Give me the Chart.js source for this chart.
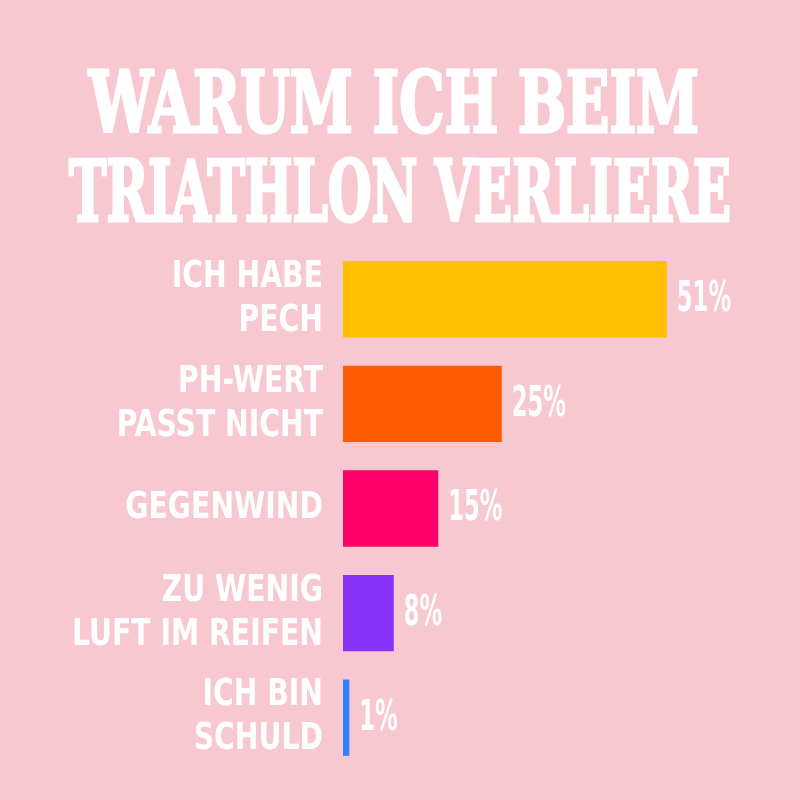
<!DOCTYPE html>
<html>
<head>
<meta charset="utf-8">
<script src="https://cdn.jsdelivr.net/npm/chart.js@4"></script>
<style>
  html, body { margin: 0; padding: 0; background: #F7C8D0; }
  #wrap { width: 800px; height: 800px; }
</style>
</head>
<body>
<div id="wrap"><canvas id="chart"></canvas></div>
<script>
const TITLE_LINES = ['WARUM ICH BEIM', 'TRIATHLON VERLIERE'];

const CATEGORIES = [
  ['ICH HABE', 'PECH'],
  ['PH-WERT', 'PASST NICHT'],
  'GEGENWIND',
  ['ZU WENIG', 'LUFT IM REIFEN'],
  ['ICH BIN', 'SCHULD']
];

const PERCENTS = [51, 25, 15, 8, 1];

const BAR_COLORS = ['#FFC000', '#FF5A00', '#FF0068', '#8A33F8', '#2F80FF'];

const BG = '#F7C8D0';

// background + title
const titlePlugin = {
  id: 'titlePlugin',
  beforeDraw(chart) {
    const { ctx, width, height } = chart;
    ctx.save();
    ctx.fillStyle = BG;
    ctx.fillRect(0, 0, width, height);
    ctx.restore();
  },
  afterDraw(chart) {
    const { ctx } = chart;
    ctx.save();
    ctx.font = 'bold 84px "DejaVu Serif Condensed", "DejaVu Serif"';
    ctx.fillStyle = '#fff';
    ctx.strokeStyle = '#fff';
    ctx.lineWidth = 3;
    ctx.lineJoin = 'miter';
    ctx.textAlign = 'center';
    ctx.textBaseline = 'alphabetic';
    ctx.fillText(TITLE_LINES[0], 394, 132, 610);
    ctx.strokeText(TITLE_LINES[0], 394, 132, 610);
    ctx.fillText(TITLE_LINES[1], 400, 221, 662);
    ctx.strokeText(TITLE_LINES[1], 400, 221, 662);
    ctx.restore();
  }
};

// category labels, squeezed like the condensed poster font
const categoryLabels = {
  id: 'categoryLabels',
  afterDraw(chart) {
    const { ctx } = chart;
    const yScale = chart.scales.y;
    ctx.save();
    ctx.font = 'bold 37px "DejaVu Sans Condensed", "DejaVu Sans"';
    ctx.fillStyle = '#fff';
    ctx.textAlign = 'right';
    ctx.textBaseline = 'middle';
    const lineH = 44;
    chart.data.labels.forEach((label, i) => {
      const lines = Array.isArray(label) ? label : [label];
      const cy = yScale.getPixelForTick(i);
      lines.forEach((line, j) => {
        const y = cy + (j - (lines.length - 1) / 2) * lineH;
        const w = ctx.measureText(line).width * 0.85;
        ctx.fillText(line, 323, y, w);
      });
    });
    ctx.restore();
  }
};

// percent labels next to bars
const valueLabels = {
  id: 'valueLabels',
  afterDatasetsDraw(chart) {
    const { ctx, data } = chart;
    ctx.save();
    ctx.font = 'bold 42px "DejaVu Sans Condensed", "DejaVu Sans"';
    ctx.fillStyle = '#fff';
    ctx.textAlign = 'left';
    ctx.textBaseline = 'middle';
    const meta = chart.getDatasetMeta(0);
    meta.data.forEach((bar, i) => {
      const txt = data.datasets[0].data[i] + '%';
      const w = ctx.measureText(txt).width * 0.6;
      ctx.fillText(txt, bar.x + 10, bar.y + 1, w);
    });
    ctx.restore();
  }
};

new Chart(document.getElementById('chart'), {
  type: 'bar',
  data: {
    labels: CATEGORIES,
    datasets: [
      {
        data: PERCENTS,
        backgroundColor: BAR_COLORS,
        borderWidth: 0,
        barPercentage: 0.73,
        categoryPercentage: 1
      }
    ]
  },
  options: {
    indexAxis: 'y',
    responsive: true,
    maintainAspectRatio: false,
    animation: false,
    layout: {
      padding: { top: 247, bottom: 30, left: 0, right: 76 }
    },
    plugins: {
      legend: { display: false },
      tooltip: { enabled: false }
    },
    scales: {
      x: {
        display: false,
        min: 0,
        max: 60
      },
      y: {
        grid: { display: false },
        border: { display: false },
        afterFit(scale) {
          scale.width = 343;
          scale.paddingTop = 0;
          scale.paddingBottom = 0;
        },
        ticks: { display: false }
      }
    }
  },
  plugins: [titlePlugin, categoryLabels, valueLabels]
});
</script>
</body>
</html>
